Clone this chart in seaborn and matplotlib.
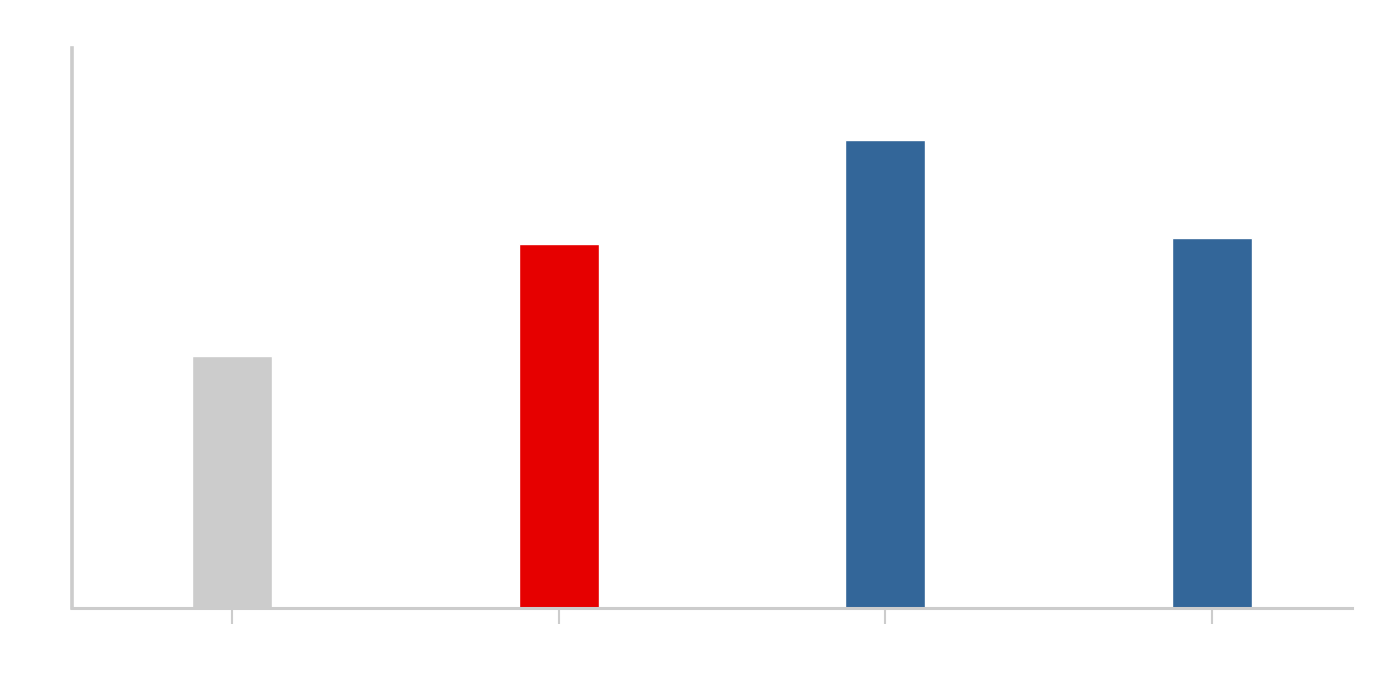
import matplotlib
matplotlib.use("Agg")
import matplotlib.pyplot as plt
import seaborn as sns
import pandas as pd

# chart values (axis 0-100)
categories = ["A", "B", "C", "D"]
values = [45, 65, 83.5, 66]
bar_colors = ["#cccccc", "#e60000", "#336699", "#336699"]

df = pd.DataFrame({"cat": categories, "val": values})

sns.set_style("white")
fig = plt.figure(figsize=(14, 6.8), dpi=100)
ax = fig.add_axes([72 / 1400, 1 - 608 / 680, 1280 / 1400, 560 / 680])

sns.barplot(data=df, x="cat", y="val", hue="cat", palette=bar_colors,
            width=0.245, saturation=1, legend=False, ax=ax)

ax.set_xlim(-0.49, 3.428)
ax.set_ylim(0, 100)

# axis styling: light grey spines, no labels
for side in ["top", "right"]:
    ax.spines[side].set_visible(False)
ax.spines["left"].set_color("#cccccc")
ax.spines["left"].set_linewidth(2.6)
ax.spines["bottom"].set_color("#cccccc")
ax.spines["bottom"].set_linewidth(2.2)
ax.tick_params(axis="x", bottom=True, direction="out", length=11.5, width=1.5,
               color="#cccccc", labelbottom=False)
ax.tick_params(axis="y", left=False, labelleft=False)
ax.set_xlabel("")
ax.set_ylabel("")

fig.savefig("out.png", dpi=100, facecolor="white")
